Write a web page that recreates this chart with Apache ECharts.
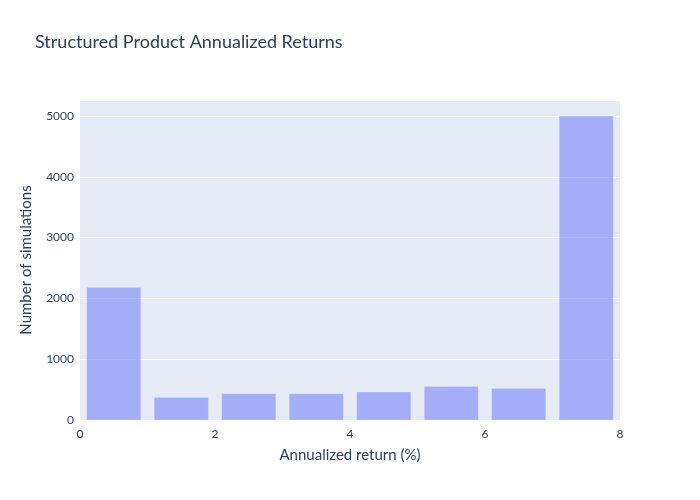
<!DOCTYPE html>
<html>
<head>
<meta charset="utf-8">
<script src="https://cdn.jsdelivr.net/npm/echarts@6/dist/echarts.min.js"></script>
<style>html,body{margin:0;padding:0;background:#fff}#c{width:700px;height:500px}</style>
</head>
<body>
<div id="c"></div>
<script>
const binStarts = [0, 1, 2, 3, 4, 5, 6, 7];
const binWidth = 1;
const counts = [2180, 368, 430, 430, 462, 550, 517, 5000];
const xTicks = [0, 2, 4, 6, 8];
const yTicks = [0, 1000, 2000, 3000, 4000, 5000];

const FONT = 'Lato';
const TXT = '#2a3f5f';
const chart = echarts.init(document.getElementById('c'), null, {renderer: 'canvas'});
const data = binStarts.map((s, i) => [s, s + binWidth, counts[i]]);
chart.setOption({
  animation: false,
  textStyle: {fontFamily: FONT, color: TXT},
  title: {
    text: 'Structured Product Annualized Returns',
    left: 30, top: 28,
    textStyle: {fontFamily: FONT, fontSize: 18, fontWeight: 'normal', color: TXT}
  },
  grid: {left: 80, right: 80, top: 100, bottom: 80, show: true, backgroundColor: '#E5ECF6', borderWidth: 0},
  xAxis: {
    type: 'value', min: xTicks[0], max: xTicks[xTicks.length - 1], interval: 2,
    axisLine: {show: false}, axisTick: {show: false}, splitLine: {show: false},
    axisLabel: {fontFamily: FONT, fontSize: 12, color: TXT, margin: 8},
    name: 'Annualized return (%)', nameLocation: 'middle', nameGap: 28,
    nameTextStyle: {fontFamily: FONT, fontSize: 15, color: TXT}
  },
  yAxis: {
    type: 'value', min: 0, max: 5263, interval: 1000,
    axisLine: {show: false}, axisTick: {show: false},
    splitLine: {show: true, lineStyle: {color: '#ffffff', width: 1}},
    axisLabel: {fontFamily: FONT, fontSize: 12, color: TXT, margin: 6, showMaxLabel: false,
      formatter: v => yTicks.includes(v) ? String(v) : ''},
    name: 'Number of simulations', nameLocation: 'middle', nameGap: 46,
    nameTextStyle: {fontFamily: FONT, fontSize: 15, color: TXT}
  },
  series: [{
    type: 'custom',
    data: data,
    renderItem: function (params, api) {
      const x0 = api.value(0), x1 = api.value(1), y = api.value(2);
      const gap = (x1 - x0) * 0.1;
      const p0 = api.coord([x0 + gap, y]);
      const p1 = api.coord([x1 - gap, 0]);
      return {
        type: 'rect',
        shape: {x: p0[0], y: p0[1], width: p1[0] - p0[0], height: p1[1] - p0[1]},
        style: {fill: 'rgba(99,110,250,0.5)', stroke: 'rgba(229,236,246,0.5)', lineWidth: 0.5}
      };
    },
    encode: {x: [0, 1], y: 2}
  }]
});
</script>
</body>
</html>
